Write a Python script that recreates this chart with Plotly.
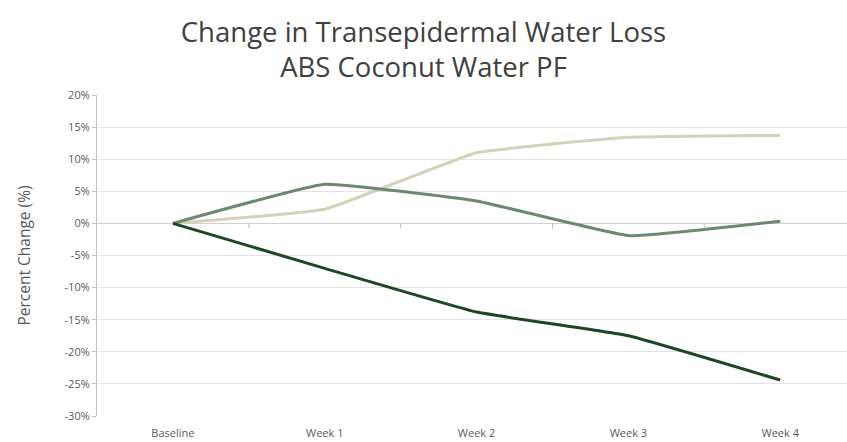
import plotly.graph_objects as go

weeks = ["Baseline", "Week 1", "Week 2", "Week 3", "Week 4"]

# percent change per timepoint
light_series = [0, 2.2, 11.0, 13.4, 13.7]
mid_series = [0, 6.1, 3.5, -1.9, 0.35]
dark_series = [0, -7.0, -13.8, -17.5, -24.4]

y_ticks = [20, 15, 10, 5, 0, -5, -10, -15, -20, -25, -30]


fig = go.Figure()
for vals, col in [(light_series, "#D3D1B8"), (mid_series, "#698A6F"), (dark_series, "#1E4721")]:
    fig.add_trace(go.Scatter(x=weeks, y=vals, mode="lines",
                             line=dict(color=col, width=3, shape="spline", smoothing=0.3),
                             showlegend=False, hoverinfo="skip"))

# category tick marks on the zero line, as in the original Excel chart
for i in range(len(weeks) - 1):
    fig.add_shape(type="line", xref="x", yref="y", x0=i + 0.5, x1=i + 0.5, y0=0, y1=-0.8,
                  line=dict(color="#BFBFBF", width=1))

fig.update_layout(
    width=847, height=442,
    paper_bgcolor="white", plot_bgcolor="white",
    margin=dict(l=97, r=0, t=95, b=26),
    font=dict(family="Open Sans", color="#595959"),
    title=dict(text="Change in Transepidermal Water Loss<br>ABS Coconut Water PF",
               x=0.5, xanchor="center", yref="container", y=0.906, yanchor="middle",
               font=dict(size=27.5, color="#404040", family="Open Sans")),
    xaxis=dict(range=[-0.5, 4.44], showgrid=False, showline=False, ticks="",
               ticklabelstandoff=9,
               tickfont=dict(size=11, color="#595959"), fixedrange=True),
    yaxis=dict(range=[-30, 20], tickvals=y_ticks, ticktext=[f"{v}%" for v in y_ticks],
               showgrid=True, gridcolor="#E3E3E3", gridwidth=1, zeroline=True,
               zerolinecolor="#D0D0D0", zerolinewidth=1,
               showline=True, linecolor="#BFBFBF", linewidth=1,
               ticks="outside", ticklen=4, tickcolor="#BFBFBF",
               tickfont=dict(size=11, color="#595959"),
               title=dict(text="Percent Change (%)", font=dict(size=15.5, color="#595959"), standoff=30)),
)

fig.write_html("out.html", config={"displayModeBar": False},
               post_script="document.body.style.margin='0';")
